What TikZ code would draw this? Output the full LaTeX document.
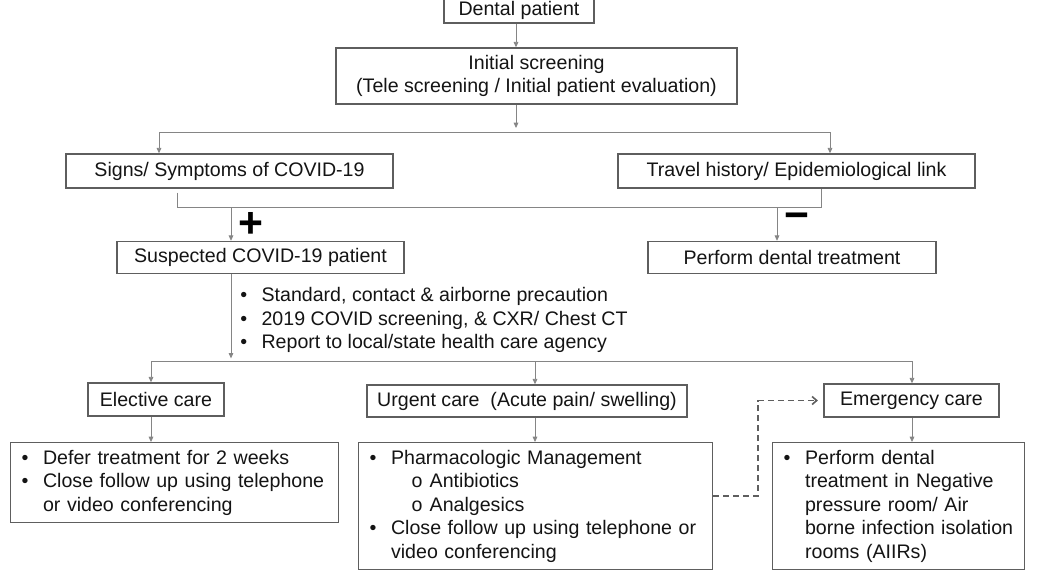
\documentclass[tikz,border=0pt]{standalone}
\usepackage{fontspec}
\setmainfont{Liberation Sans}
\usepackage{xcolor}
\usetikzlibrary{arrows.meta,positioning}
\definecolor{framegray}{HTML}{5E5E5E}
\definecolor{wiregray}{HTML}{858585}
\definecolor{inkgray}{HTML}{141414}
\newcommand{\bul}{\makebox[16pt][l]{\textbullet}}
\newcommand{\subbul}{\hspace*{31.5pt}\makebox[13.5pt][l]{o}}
\newcommand{\cont}{\hspace*{16pt}}

\begin{document}
\begin{tikzpicture}[
  x=0.75pt, y=-0.75pt,
  every node/.style={text=inkgray, font=\fontsize{14.7}{17.6}\selectfont},
  box/.style={draw=framegray, line width=1.1pt, fill=white, align=center, inner sep=0pt},
  listbox/.style={box, anchor=north west, align=left, inner xsep=8.25pt},
  line/.style={draw=wiregray, line width=0.6pt},
  arr/.style={line, -{Triangle[length=4pt,width=3.5pt]}},
  dasharr/.style={draw=framegray, line width=1.2pt, dash pattern=on 4.5pt off 3pt,
                  -{Straight Barb[length=3.5pt,width=6pt]}},
  sign/.style={font=\fontsize{32}{32}\selectfont\bfseries, text=black, inner sep=0pt}
]
\useasboundingbox (0,0) rectangle (1038,576);

\node[box, minimum width=112.5pt, minimum height=19.5pt] (dental) at (519,10) {Dental patient};
\node[box, minimum width=300.75pt, minimum height=42pt] (init) at (536.5,76)
  {Initial screening\\(Tele screening / Initial patient evaluation)};

\node[box, minimum width=245.25pt, minimum height=25.5pt] (signs) at (229.5,171) {Signs/ Symptoms of COVID-19};
\node[box, minimum width=267.75pt, minimum height=25.5pt] (travel) at (796.5,171) {Travel history/ Epidemiological link};

\node[box, minimum width=215.25pt, minimum height=24pt] (suspect) at (260.5,257.5) {Suspected COVID-19 patient};
\node[box, minimum width=216pt, minimum height=24pt] (perform) at (792,257.5) {Perform dental treatment};

\node[sign] (plus) at (251,225) {+};
\node[sign] (minus) at (797,221) {−};

\node[anchor=west, align=left, inner sep=0pt] (prec) at (240,320)
  {\bul Standard, contact \& airborne precaution\\
   \bul 2019 COVID screening, \& CXR/ Chest CT\\
   \bul Report to local/state health care agency};

\node[box, minimum width=102pt, minimum height=24.75pt] (elective) at (156,399.5) {Elective care};
\node[box, minimum width=240pt, minimum height=24pt] (urgent) at (527,401) {Urgent care\ \ (Acute pain/ swelling)};
\node[box, minimum width=131.25pt, minimum height=24.75pt] (emerg) at (911.5,400.5) {Emergency care};

\node[listbox, text width=229.5pt, minimum height=60pt] (elist) at (10,442)
  {\bul Defer treatment for 2 weeks\\
   \bul Close follow up using telephone\\
   \cont or video conferencing};
\node[listbox, text width=249pt, minimum height=95.25pt] (ulist) at (358,442)
  {\bul Pharmacologic Management\\
   \subbul Antibiotics\\
   \subbul Analgesics\\
   \bul Close follow up using telephone or\\
   \cont video conferencing};
\node[listbox, text width=172.5pt, minimum height=95.25pt] (mlist) at (772,442)
  {\bul Perform dental\\
   \cont treatment in Negative\\
   \cont pressure room/ Air\\
   \cont borne infection isolation\\
   \cont rooms (AIIRs)};

\coordinate (fork1) at (516,132);
\coordinate (forkL) at (159,132);
\coordinate (forkR) at (830,132);
\coordinate (joinL) at (177,207);
\coordinate (joinR) at (821,207);
\coordinate (yes) at (231,207);
\coordinate (no) at (777,207);
\coordinate (fork2) at (231,361);
\coordinate (f2L) at (151,361);
\coordinate (f2M) at (535,361);
\coordinate (f2R) at (912,361);
\coordinate (detour) at (758,496);

\draw[arr] (dental.south -| fork1) -- (init.north -| fork1);
\draw[arr] (init.south -| fork1) -- ([yshift=3pt]fork1);
\draw[line] (forkL) -- (forkR);
\draw[arr] (forkL) -- (forkL |- signs.north);
\draw[arr] (forkR) -- (forkR |- travel.north);

\draw[line, shorten <=3pt] (signs.south -| joinL) -- (joinL) -- (joinR) -- (travel.south -| joinR);
\draw[arr] (yes) -- (yes |- suspect.north);
\draw[arr] (no) -- (no |- perform.north);

\draw[arr] (suspect.south -| fork2) -- ([yshift=2pt]fork2);
\draw[line] (f2L) -- (f2R);
\draw[arr] (f2L) -- (f2L |- elective.north);
\draw[arr] (f2M) -- (f2M |- urgent.north);
\draw[arr] (f2R) -- (f2R |- emerg.north);

\draw[arr] (elective.south -| f2L) -- (elist.north -| f2L);
\draw[arr] (urgent.south -| f2M) -- (ulist.north -| f2M);
\draw[arr] (emerg.south -| f2R) -- (mlist.north -| f2R);

\draw[dasharr, shorten >=4pt] (ulist.east |- detour) -- (detour) |- (emerg.west);
\end{tikzpicture}
\end{document}
